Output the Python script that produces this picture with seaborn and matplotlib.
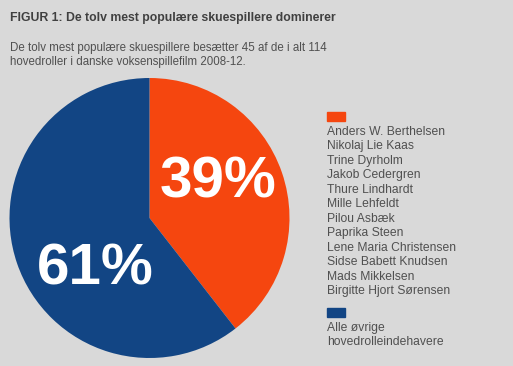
import matplotlib
matplotlib.use("Agg")
import matplotlib.pyplot as plt
import seaborn as sns

# data
groups = ["De tolv mest populære", "Alle øvrige"]
roles = [45, 69]
pct_labels = ["39%", "61%"]
top_actors = [
    "Anders W. Berthelsen", "Nikolaj Lie Kaas", "Trine Dyrholm",
    "Jakob Cedergren", "Thure Lindhardt", "Mille Lehfeldt",
    "Pilou Asbæk", "Paprika Steen", "Lene Maria Christensen",
    "Sidse Babett Knudsen", "Mads Mikkelsen", "Birgitte Hjort Sørensen",
]
other_label = ["Alle øvrige", "hovedrolleindehavere"]

BG = "#d9d9d9"
colors = ["#f5460f", "#124584"]
TXT = "#505050"

sns.set_style("white", {"axes.facecolor": BG, "figure.facecolor": BG})
plt.rcParams['font.family'] = ['Liberation Sans', 'DejaVu Sans']

W, H = 513, 366
fig = plt.figure(figsize=(W / 100, H / 100), dpi=100)

def px(x, y):
    return x / W, 1 - y / H

# pie axes: centre (149.5, 218), radius 140 px
cx, cy, r = 149.5, 218, 140
ax = fig.add_axes([(cx - r) / W, 1 - (cy + r) / H, 2 * r / W, 2 * r / H])
ax.pie(roles, colors=colors, startangle=90, counterclock=False,
       wedgeprops=dict(linewidth=0))
ax.set_xlim(-1, 1)
ax.set_ylim(-1, 1)
ax.set_aspect('equal')
ax.axis('off')
ax.text(0.49, 0.25, pct_labels[0], color="white", fontsize=42,
        fontweight='bold', ha='center', va='center')
ax.text(-0.39, -0.37, pct_labels[1], color="white", fontsize=42,
        fontweight='bold', ha='center', va='center')

# titles
fig.text(*px(10, 18), "FIGUR 1: De tolv mest populære skuespillere dominerer",
         fontsize=8.8, fontweight='bold', color="#404040", va='center')
fig.text(*px(10, 48), "De tolv mest populære skuespillere besætter 45 af de i alt 114",
         fontsize=8.3, color=TXT, va='center')
fig.text(*px(10, 62), "hovedroller i danske voksenspillefilm 2008-12.",
         fontsize=8.3, color=TXT, va='center')

# legend
lx = 327
fig.patches.append(plt.Rectangle(px(lx, 121), 18 / W, 9 / H, color=colors[0],
                                 transform=fig.transFigure, figure=fig))
for i, name in enumerate(top_actors):
    fig.text(*px(lx, 132 + i * 14.45), name, fontsize=8.7, color=TXT, va='center')
fig.patches.append(plt.Rectangle(px(lx, 317), 18 / W, 9 / H, color=colors[1],
                                 transform=fig.transFigure, figure=fig))
for i, line in enumerate(other_label):
    fig.text(*px(lx, 328 + i * 14.45), line, fontsize=8.7, color=TXT, va='center')

fig.savefig("out.png", dpi=100, facecolor=BG)
